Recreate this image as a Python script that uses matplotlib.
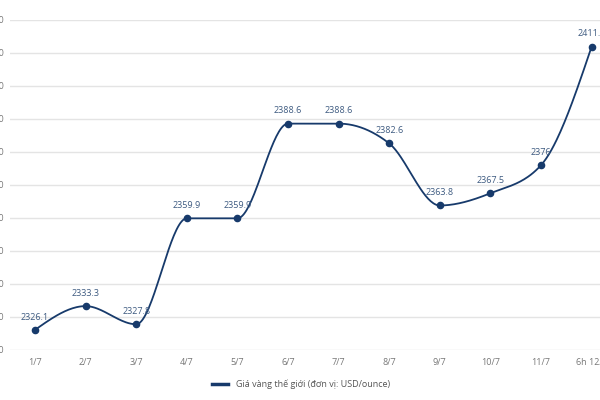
import numpy as np
import matplotlib.pyplot as plt
from matplotlib.lines import Line2D

# ---- data ----
dates = ["1/7", "2/7", "3/7", "4/7", "5/7", "6/7", "7/7", "8/7", "9/7", "10/7", "11/7", "6h 12/7"]
prices = [2326.1, 2333.3, 2327.8, 2359.9, 2359.9, 2388.6, 2388.6, 2382.6, 2363.8, 2367.5, 2376, 2411.9]
price_labels = ["2326.1", "2333.3", "2327.8", "2359.9", "2359.9", "2388.6", "2388.6", "2382.6",
                "2363.8", "2367.5", "2376", "2411.9"]
y_ticks = list(range(2320, 2421, 10))
legend_label = "Giá vàng thế giới (đơn vị: USD/ounce)"

LINE = "#173a6b"
TEXT = "#3d5a80"
GREY = "#777777"
plt.rcParams['font.family'] = ['Open Sans', 'DejaVu Sans']


# monotone cubic (d3 curveMonotoneX style) for the smooth line
def monotone_curve(x, y, n=40):
    x = np.asarray(x, float)
    y = np.asarray(y, float)
    h = np.diff(x)
    s = np.diff(y) / h
    m = np.zeros_like(y)
    for i in range(1, len(x) - 1):
        p = (s[i - 1] * h[i] + s[i] * h[i - 1]) / (h[i - 1] + h[i])
        m[i] = (np.sign(s[i - 1]) + np.sign(s[i])) * min(abs(s[i - 1]), abs(s[i]), 0.5 * abs(p))
    m[0] = (3 * s[0] - m[1]) / 2
    m[-1] = (3 * s[-1] - m[-2]) / 2
    xs, ys = [], []
    for i in range(len(x) - 1):
        t = np.linspace(0, 1, n)
        h00 = 2 * t**3 - 3 * t**2 + 1
        h10 = t**3 - 2 * t**2 + t
        h01 = -2 * t**3 + 3 * t**2
        h11 = t**3 - t**2
        xs.append(x[i] + t * h[i])
        ys.append(h00 * y[i] + h10 * h[i] * m[i] + h01 * y[i + 1] + h11 * h[i] * m[i + 1])
    return np.concatenate(xs), np.concatenate(ys)


fig = plt.figure(figsize=(6, 4), dpi=100)
ax = fig.add_axes([9.7 / 600, 50 / 400, 607.2 / 600, 330 / 400])

xi = np.arange(len(dates))
cx, cy = monotone_curve(xi, prices)
ax.plot(cx, cy, color=LINE, lw=1.3, zorder=3)
ax.scatter(xi, prices, s=20, color=LINE, zorder=4)

for i, (v, lab) in enumerate(zip(prices, price_labels)):
    ax.annotate(lab, (i, v), xytext=(0, 6), textcoords='offset points',
                ha='center', va='bottom', fontsize=6.5, color=TEXT, zorder=5)

ax.set_xlim(-0.5, len(dates) - 0.5)
ax.set_ylim(2320, 2420)
ax.set_xticks(xi)
ax.set_xticklabels(dates)
ax.set_yticks(y_ticks)
ax.set_yticklabels([str(t) for t in y_ticks])
ax.tick_params(axis='both', length=0, labelsize=6.5, labelcolor=GREY)
ax.tick_params(axis='x', pad=6)
ax.tick_params(axis='y', pad=4)
ax.grid(axis='y', color='#e4e4e4', lw=1)
for sp in ax.spines.values():
    sp.set_visible(False)

handle = Line2D([], [], color=LINE, lw=2.5)
fig.legend(handles=[handle], labels=[legend_label], loc='center',
           bbox_to_anchor=(301 / 600, 16 / 400), frameon=False,
           fontsize=6.5, labelcolor='#555555', handlelength=1.8, handletextpad=0.8)

fig.savefig("out.png", dpi=100)
